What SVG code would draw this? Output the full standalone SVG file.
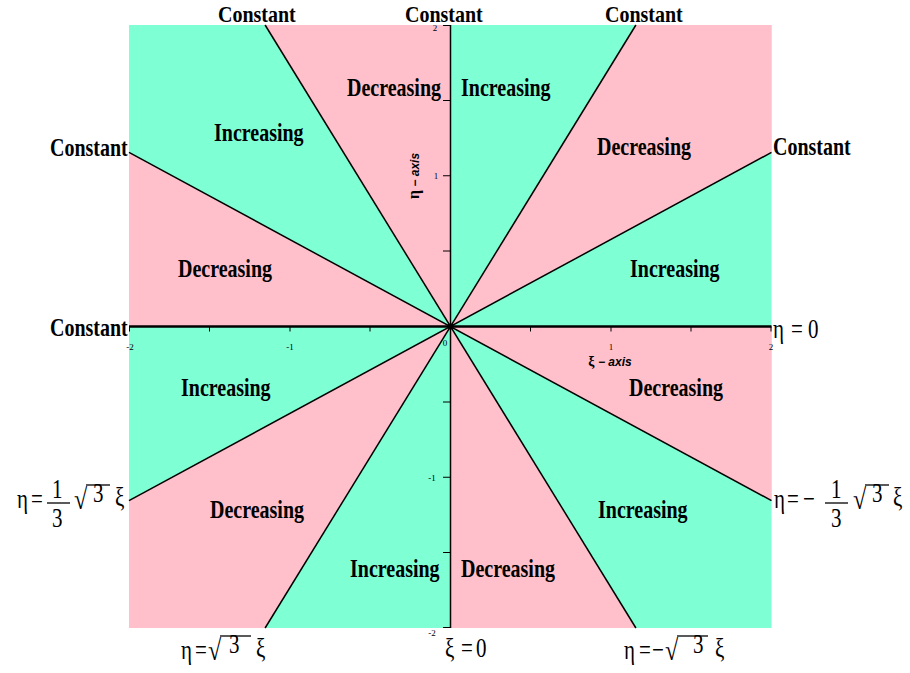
<svg xmlns="http://www.w3.org/2000/svg" width="910" height="673" viewBox="0 0 910 673">
<style>
.g{fill:#7FFFD4}
.p{fill:#FFC0CB}
.bl{stroke:#000;stroke-width:1.5;fill:none}
.ax{stroke:#000;stroke-width:2.6}
.tk{stroke:#000;stroke-width:1}
.lbl{font-family:"Liberation Serif",serif;font-weight:bold;font-size:20px;fill:#000}
.eq{font-family:"Liberation Serif",serif;font-size:21px;fill:#000}
.rad{font-family:"Liberation Serif",serif;font-size:24px;fill:#000}
.tl{font-family:"Liberation Serif",serif;font-size:9px;fill:#000}
.al{font-family:"Liberation Sans",sans-serif;font-weight:bold;font-style:italic;font-size:12px;fill:#000}
.fb{stroke:#000;stroke-width:1.3}
</style>
<rect width="910" height="673" fill="#fff"/>
<g id="regions">
<rect class="g" x="129" y="25" width="642.5" height="603"/>
<polygon class="p" points="450.5,326.5 771.5,152.4 771.5,25 635.9,25"/>
<polygon class="p" points="450.5,326.5 450.5,25 265.1,25"/>
<polygon class="p" points="450.5,326.5 129,152.4 129,326.5"/>
<polygon class="p" points="450.5,326.5 129,500.6 129,628 265.1,628"/>
<polygon class="p" points="450.5,326.5 450.5,628 635.9,628"/>
<polygon class="p" points="450.5,326.5 771.5,500.6 771.5,326.5"/>
</g>
<g id="connectors">
<line class="bl" x1="129" y1="500.6" x2="771.5" y2="152.4"/>
<line class="bl" x1="129" y1="152.4" x2="771.5" y2="500.6"/>
<line class="bl" x1="265.1" y1="628" x2="635.9" y2="25"/>
<line class="bl" x1="265.1" y1="25" x2="635.9" y2="628"/>
<line class="bl" x1="450.5" y1="25" x2="450.5" y2="628"/>
<line class="ax" x1="129" y1="326.5" x2="771.5" y2="326.5"/>
<circle cx="450.5" cy="326.5" r="3" fill="#000"/>
</g>
<g id="ticks">
<path class="tk" d="M129.5,326.5v5M209.5,326.5v5M290,326.5v5M370,326.5v5M530.5,326.5v5M611,326.5v5M691,326.5v5M771,326.5v5"/>
<path class="tk" d="M443,25.5h7.5M443,100.5h7.5M443,175.75h7.5M443,251h7.5M443,402h7.5M443,477.25h7.5M443,552.5h7.5M443,627.5h7.5"/>
<text class="tl" x="130" y="350" text-anchor="middle">-2</text>
<text class="tl" x="290" y="350" text-anchor="middle">-1</text>
<text class="tl" x="445" y="346" text-anchor="middle">0</text>
<text class="tl" x="611" y="350" text-anchor="middle">1</text>
<text class="tl" x="771" y="350" text-anchor="middle">2</text>
<text class="tl" x="435" y="31" text-anchor="middle">2</text>
<text class="tl" x="436" y="179" text-anchor="middle">1</text>
<text class="tl" x="432" y="481" text-anchor="middle">-1</text>
<text class="tl" x="432" y="636" text-anchor="middle">-2</text>
<text class="al" transform="translate(610,366)" text-anchor="middle"><tspan font-family="Liberation Serif" font-style="normal" font-size="14">ξ</tspan> − axis</text>
<text class="al" transform="translate(419,176) rotate(-90)" text-anchor="middle" font-size="14"><tspan font-family="Liberation Serif" font-style="normal" font-size="16">η</tspan> − axis</text>
</g>
<g id="n-constant-labels">
<text class="lbl" transform="translate(218,21.5) scale(1,1.2)">Constant</text>
<text class="lbl" transform="translate(405,21.5) scale(1,1.2)">Constant</text>
<text class="lbl" transform="translate(605,21.5) scale(1,1.2)">Constant</text>
<text class="lbl" transform="translate(50,156) scale(1,1.3)">Constant</text>
<text class="lbl" transform="translate(773,155) scale(1,1.3)">Constant</text>
<text class="lbl" transform="translate(50,336) scale(1,1.3)">Constant</text>
</g>
<g id="n-region-labels">
<text class="lbl" transform="translate(347,96) scale(1,1.3)">Decreasing</text>
<text class="lbl" transform="translate(461,96) scale(1,1.3)">Increasing</text>
<text class="lbl" transform="translate(214,141) scale(1,1.3)">Increasing</text>
<text class="lbl" transform="translate(597,155) scale(1,1.3)">Decreasing</text>
<text class="lbl" transform="translate(178,277) scale(1,1.3)">Decreasing</text>
<text class="lbl" transform="translate(630,277) scale(1,1.3)">Increasing</text>
<text class="lbl" transform="translate(181,396) scale(1,1.3)">Increasing</text>
<text class="lbl" transform="translate(629,396) scale(1,1.3)">Decreasing</text>
<text class="lbl" transform="translate(210,518) scale(1,1.3)">Decreasing</text>
<text class="lbl" transform="translate(598,518) scale(1,1.3)">Increasing</text>
<text class="lbl" transform="translate(350,577) scale(1,1.3)">Increasing</text>
<text class="lbl" transform="translate(461,577) scale(1,1.3)">Decreasing</text>
</g>
<g id="n-eq-eta0">
<text class="eq" transform="translate(773,338) scale(1,1.3)">η<tspan x="18">=</tspan><tspan x="35">0</tspan></text>
</g>
<g id="n-eq-left">
<text class="eq" transform="translate(17,508) scale(1,1.3)">η<tspan x="14">=</tspan></text>
<text class="eq" transform="translate(52,498) scale(1,1.3)">1</text>
<line class="fb" x1="47" y1="503" x2="70" y2="503"/>
<text class="eq" transform="translate(52,527) scale(1,1.3)">3</text>
<text class="rad" transform="translate(74,509) scale(1,1.2)">√</text>
<line class="fb" x1="86" y1="485" x2="110" y2="485"/>
<text class="eq" transform="translate(93,502) scale(1,1.3)">3</text>
<text class="eq" transform="translate(115,506) scale(1,1.3)">ξ</text>
</g>
<g id="n-eq-right">
<text class="eq" transform="translate(774,508) scale(1,1.3)">η<tspan x="13">=</tspan><tspan x="29">−</tspan></text>
<text class="eq" transform="translate(831,498) scale(1,1.3)">1</text>
<line class="fb" x1="825" y1="503" x2="848" y2="503"/>
<text class="eq" transform="translate(831,527) scale(1,1.3)">3</text>
<text class="rad" transform="translate(853,509) scale(1,1.2)">√</text>
<line class="fb" x1="865" y1="485" x2="889" y2="485"/>
<text class="eq" transform="translate(872,502) scale(1,1.3)">3</text>
<text class="eq" transform="translate(893,506) scale(1,1.3)">ξ</text>
</g>
<g id="n-eq-sqrt3">
<text class="eq" transform="translate(181,659) scale(1,1.3)">η<tspan x="14">=</tspan></text>
<text class="rad" transform="translate(208,660) scale(1,1.2)">√</text>
<line class="fb" x1="220" y1="636" x2="251" y2="636"/>
<text class="eq" transform="translate(229,653) scale(1,1.3)">3</text>
<text class="eq" transform="translate(256,657) scale(1,1.3)">ξ</text>
</g>
<g id="n-eq-xi0">
<text class="eq" transform="translate(445,657) scale(1,1.3)">ξ<tspan x="16">=</tspan><tspan x="31">0</tspan></text>
</g>
<g id="n-eq-msqrt3">
<text class="eq" transform="translate(624,659) scale(1,1.3)">η<tspan x="15">=</tspan><tspan x="28">−</tspan></text>
<text class="rad" transform="translate(665,660) scale(1,1.2)">√</text>
<line class="fb" x1="677" y1="636" x2="708" y2="636"/>
<text class="eq" transform="translate(693,653) scale(1,1.3)">3</text>
<text class="eq" transform="translate(715,657) scale(1,1.3)">ξ</text>
</g>
</svg>
